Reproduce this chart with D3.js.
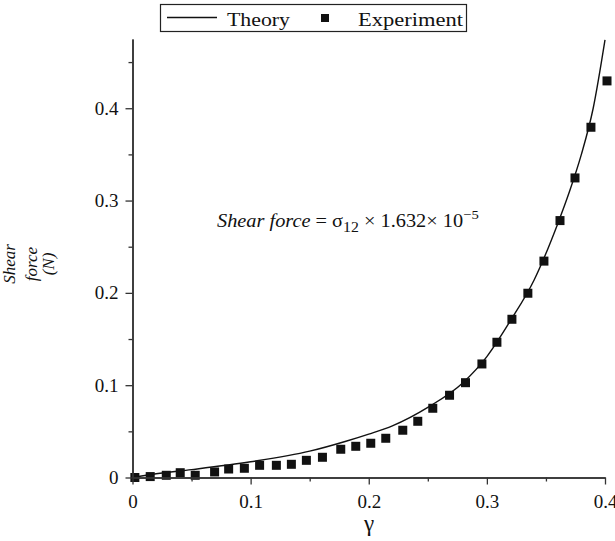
<!DOCTYPE html>
<html><head><meta charset="utf-8">
<script src="https://cdn.jsdelivr.net/npm/d3@7"></script>
<style>
body{margin:0;background:#fff;}
text{font-family:"Liberation Serif","Times New Roman",serif;fill:#111;}
</style></head>
<body><svg id="c" width="615" height="541"></svg>
<script>
// Experimental data (gamma, shear force N)
const expX = [0.002,0.015,0.0286,0.0404,0.0531,0.0695,0.0814,0.0947,0.1076,0.1218,0.1345,0.1472,0.1608,0.1763,0.189,0.2017,0.2144,0.2288,0.2415,0.2542,0.2684,0.2819,0.2958,0.3085,0.3212,0.3347,0.3483,0.3619,0.3746,0.3881,0.4017];
const expY = [0.000,0.001,0.0024,0.0052,0.0024,0.006,0.0092,0.010,0.0132,0.0132,0.0143,0.0186,0.0219,0.0306,0.0338,0.0371,0.0425,0.0512,0.0609,0.075,0.0891,0.1027,0.123,0.1465,0.1714,0.1996,0.2344,0.2783,0.3245,0.3794,0.4296];
// Theory curve
const thX = [0,0.02,0.05,0.10,0.15,0.18,0.20,0.22,0.25,0.28,0.30,0.32,0.34,0.36,0.37,0.38,0.39,0.40];
const thY = [0,0.004,0.0085,0.017,0.0285,0.039,0.047,0.056,0.076,0.103,0.131,0.170,0.214,0.275,0.310,0.350,0.400,0.474];
const xTicks = [0,0.1,0.2,0.3,0.4];
const xTickLabels = ["0","0.1","0.2","0.3","0.4"];
const yTicks = [0,0.1,0.2,0.3,0.4];
const yTickLabels = ["0","0.1","0.2","0.3","0.4"];
const xMinor = [0.05,0.15,0.25,0.35];
const yMinor = [0.05,0.15,0.25,0.35,0.45];

const svg = d3.select("#c");
const x = d3.scaleLinear().domain([0,0.4]).range([132.5,605]);
const y = d3.scaleLinear().domain([0,0.475]).range([477.5,39]);
const axisCol = "#333";

// theory line
const line = d3.line().x((d,i)=>x(thX[i])).y((d,i)=>y(thY[i])).curve(d3.curveMonotoneX);
svg.append("path").datum(thX).attr("d",line).attr("fill","none").attr("stroke","#111").attr("stroke-width",1.4);

// points
svg.append("g").selectAll("rect").data(expX).join("rect")
  .attr("x",(d)=>x(d)-4.5).attr("y",(d,i)=>y(expY[i])-4.5)
  .attr("width",9).attr("height",9).attr("fill","#111");

// x axis
const gx = svg.append("g").attr("transform",`translate(0,${y(0)})`)
  .call(d3.axisBottom(x).tickValues(xTicks).tickFormat((d,i)=>xTickLabels[i]).tickSize(7).tickSizeOuter(0).tickPadding(6));
gx.append("g").call(d3.axisBottom(x).tickValues(xMinor).tickFormat("").tickSize(4).tickSizeOuter(0));
// y axis
const gy = svg.append("g").attr("transform",`translate(${x(0)},0)`)
  .call(d3.axisLeft(y).tickValues(yTicks).tickFormat((d,i)=>yTickLabels[i]).tickSize(7).tickSizeOuter(0).tickPadding(7));
gy.append("g").call(d3.axisLeft(y).tickValues(yMinor).tickFormat("").tickSize(4).tickSizeOuter(0));
svg.selectAll(".domain").attr("stroke",axisCol).attr("stroke-width",1.5);
svg.selectAll(".tick line").attr("stroke",axisCol).attr("stroke-width",1.3);
svg.selectAll(".tick text").style("font-family",'"Liberation Serif",serif').style("font-size","19px").attr("fill","#222");
gx.selectAll(".tick text").attr("dy","0.9em");

// x label
svg.append("text").attr("x",369).attr("y",531).attr("text-anchor","middle").style("font-size","23px").text("γ");

// y label
const yl = svg.append("text").attr("transform","translate(15,264) rotate(-90)").attr("text-anchor","middle")
  .style("font-size","17px").style("font-style","italic");
yl.append("tspan").attr("x",0).attr("dy",0).text("Shear");
yl.append("tspan").attr("x",0).attr("dy","1.3em").text("force");
yl.append("tspan").attr("x",0).attr("dy","1.0em").text("(N)");

// annotation
const an = svg.append("text").attr("transform","translate(217,227) scale(1.13,1)").style("font-size","18px");
an.append("tspan").style("font-style","italic").text("Shear force");
an.append("tspan").text(" = σ");
an.append("tspan").attr("dy",5).style("font-size","14px").text("12");
an.append("tspan").attr("dy",-5).text(" × 1.632× 10");
an.append("tspan").attr("dy",-8).style("font-size","13px").text("−5");

// legend
const lg = svg.append("g");
lg.append("rect").attr("x",160.5).attr("y",4.5).attr("width",306).attr("height",27).attr("fill","#fff").attr("stroke","#222").attr("stroke-width",1.2);
lg.append("line").attr("x1",167).attr("x2",217).attr("y1",17.5).attr("y2",17.5).attr("stroke","#111").attr("stroke-width",1.3);
lg.append("text").attr("x",227).attr("y",26).style("font-size","19px").attr("textLength",63).attr("lengthAdjust","spacingAndGlyphs").text("Theory");
lg.append("rect").attr("x",321).attr("y",14).attr("width",8).attr("height",8).attr("fill","#111");
lg.append("text").attr("x",358).attr("y",26).style("font-size","19px").attr("textLength",105).attr("lengthAdjust","spacingAndGlyphs").text("Experiment");
</script></body></html>
